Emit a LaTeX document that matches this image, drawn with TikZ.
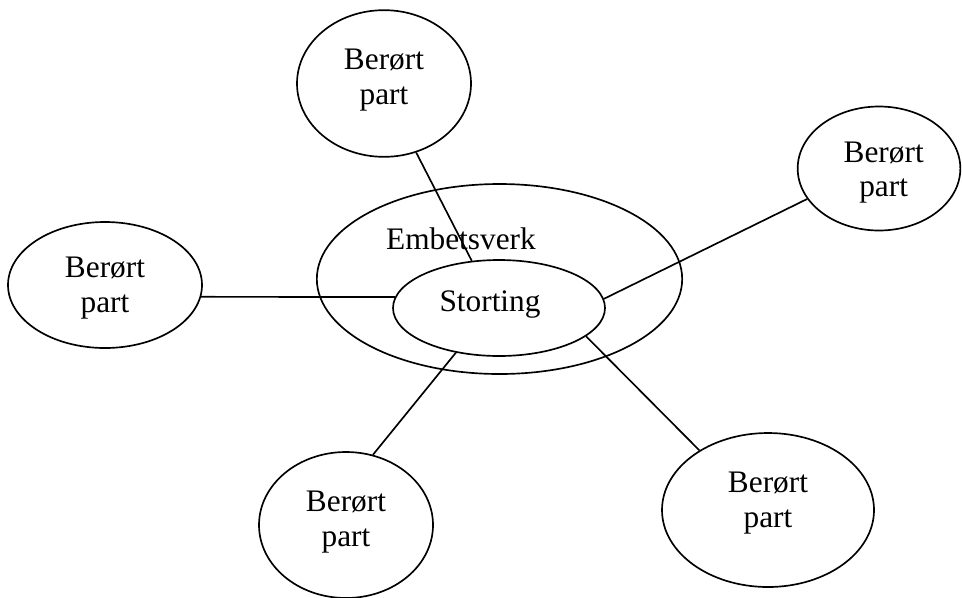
\documentclass[tikz,border=0pt]{standalone}
\usepackage{fontspec}
\setmainfont{Liberation Serif}
\usetikzlibrary{shapes.geometric}
\begin{document}
\begin{tikzpicture}[x=0.75pt,y=-0.75pt,
  oval/.style={draw=black, line width=1.25pt, ellipse, inner sep=0pt},
  txt/.style={font=\fontsize{23.5}{26}\selectfont, align=center, inner sep=0pt},
  link/.style={draw=black, line width=1.25pt}]
\path[fill=white, use as bounding box] (0,0) rectangle (962,597);

% central bodies
\node[oval, minimum width=274pt, minimum height=142.5pt,
      label={[txt, xshift=-28.9pt, yshift=30pt]center:Embetsverk}] (emb) at (499.5,279) {};
\node[oval, minimum width=159pt, minimum height=72pt,
      label={[txt, xshift=-6.75pt, yshift=3pt]center:Storting}] (sto) at (499,308) {};

% affected parties
\node[oval, minimum width=130.5pt, minimum height=110pt,
      label={[txt, yshift=2.6pt]center:{Berørt\\part}}] (pTop) at (384,83.5) {};
\node[oval, minimum width=122pt, minimum height=93pt,
      label={[txt, xshift=3.5pt, yshift=-3pt]center:{Berørt\\part}}] (pRight) at (879,168.5) {};
\node[oval, minimum width=145.5pt, minimum height=94.5pt,
      label={[txt, yshift=-2.5pt]center:{Berørt\\part}}] (pLeft) at (105,285) {};
\node[oval, minimum width=130.5pt, minimum height=109.5pt,
      label={[txt, yshift=2pt]center:{Berørt\\part}}] (pBL) at (346,525) {};
\node[oval, minimum width=159pt, minimum height=115.5pt,
      label={[txt, yshift=5pt]center:{Berørt\\part}}] (pBR) at (768,510) {};

% connectors to the Storting
\draw[link] (pTop.-65) -- (sto.120);
\draw[link] (sto.5) -- (pRight.-157);
\draw[link] (pLeft.-7.6) -- (sto.174.6);
\draw[link] (pBL.69) -- (sto.-134);
\draw[link] (pBR.139) -- (sto.-18);
\end{tikzpicture}
\end{document}
